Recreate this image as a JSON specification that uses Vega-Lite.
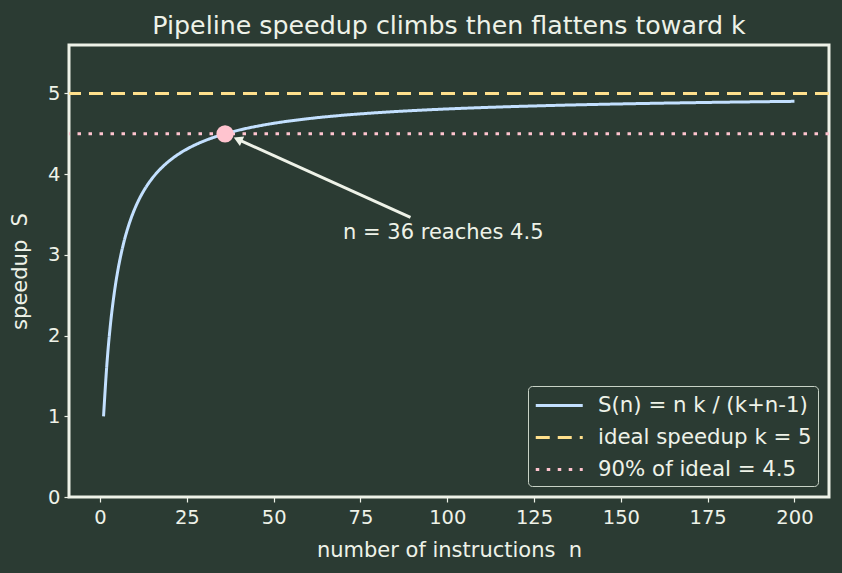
{
  "$schema": "https://vega.github.io/schema/vega-lite/v6.json",
  "autosize": "none",
  "width": 760,
  "height": 452,
  "padding": {"left": 69, "top": 45, "right": 13, "bottom": 76},
  "background": "#2b3b33",
  "config": {
    "font": "DejaVu Sans",
    "view": {"stroke": "#eef2e8", "strokeWidth": 3},
    "axis": {
      "domain": false,
      "grid": false,
      "tickColor": "#eef2e8",
      "tickSize": 5,
      "tickWidth": 1.2,
      "labelColor": "#eef2e8",
      "labelFontSize": 19.5,
      "labelPadding": 4,
      "titleColor": "#eef2e8",
      "titleFontSize": 21,
      "titleFontWeight": "normal"
    },
    "legend": {
      "labelColor": "#eef2e8",
      "labelFontSize": 21.3,
      "labelLimit": 0
    }
  },
  "title": {
    "text": "Pipeline speedup climbs then flattens toward k",
    "color": "#eef2e8",
    "fontSize": 25.3,
    "fontWeight": "normal",
    "offset": 6
  },
  "datasets": {
    "curve": [
      {"n": 1, "S": 1.0, "series": "S(n) = n k / (k+n-1)"},
      {"n": 2, "S": 1.6667, "series": "S(n) = n k / (k+n-1)"},
      {"n": 3, "S": 2.1429, "series": "S(n) = n k / (k+n-1)"},
      {"n": 4, "S": 2.5, "series": "S(n) = n k / (k+n-1)"},
      {"n": 5, "S": 2.7778, "series": "S(n) = n k / (k+n-1)"},
      {"n": 6, "S": 3.0, "series": "S(n) = n k / (k+n-1)"},
      {"n": 7, "S": 3.1818, "series": "S(n) = n k / (k+n-1)"},
      {"n": 8, "S": 3.3333, "series": "S(n) = n k / (k+n-1)"},
      {"n": 9, "S": 3.4615, "series": "S(n) = n k / (k+n-1)"},
      {"n": 10, "S": 3.5714, "series": "S(n) = n k / (k+n-1)"},
      {"n": 11, "S": 3.6667, "series": "S(n) = n k / (k+n-1)"},
      {"n": 12, "S": 3.75, "series": "S(n) = n k / (k+n-1)"},
      {"n": 13, "S": 3.8235, "series": "S(n) = n k / (k+n-1)"},
      {"n": 14, "S": 3.8889, "series": "S(n) = n k / (k+n-1)"},
      {"n": 15, "S": 3.9474, "series": "S(n) = n k / (k+n-1)"},
      {"n": 16, "S": 4.0, "series": "S(n) = n k / (k+n-1)"},
      {"n": 18, "S": 4.0909, "series": "S(n) = n k / (k+n-1)"},
      {"n": 20, "S": 4.1667, "series": "S(n) = n k / (k+n-1)"},
      {"n": 22, "S": 4.2308, "series": "S(n) = n k / (k+n-1)"},
      {"n": 25, "S": 4.3103, "series": "S(n) = n k / (k+n-1)"},
      {"n": 28, "S": 4.375, "series": "S(n) = n k / (k+n-1)"},
      {"n": 32, "S": 4.4444, "series": "S(n) = n k / (k+n-1)"},
      {"n": 36, "S": 4.5, "series": "S(n) = n k / (k+n-1)"},
      {"n": 40, "S": 4.5455, "series": "S(n) = n k / (k+n-1)"},
      {"n": 45, "S": 4.5918, "series": "S(n) = n k / (k+n-1)"},
      {"n": 50, "S": 4.6296, "series": "S(n) = n k / (k+n-1)"},
      {"n": 60, "S": 4.6875, "series": "S(n) = n k / (k+n-1)"},
      {"n": 70, "S": 4.7297, "series": "S(n) = n k / (k+n-1)"},
      {"n": 80, "S": 4.7619, "series": "S(n) = n k / (k+n-1)"},
      {"n": 90, "S": 4.7872, "series": "S(n) = n k / (k+n-1)"},
      {"n": 100, "S": 4.8077, "series": "S(n) = n k / (k+n-1)"},
      {"n": 115, "S": 4.8319, "series": "S(n) = n k / (k+n-1)"},
      {"n": 130, "S": 4.8507, "series": "S(n) = n k / (k+n-1)"},
      {"n": 150, "S": 4.8701, "series": "S(n) = n k / (k+n-1)"},
      {"n": 175, "S": 4.8883, "series": "S(n) = n k / (k+n-1)"},
      {"n": 200, "S": 4.902, "series": "S(n) = n k / (k+n-1)"}
    ],
    "refs": [
      {"S": 5, "series": "ideal speedup k = 5"},
      {"S": 4.5, "series": "90% of ideal = 4.5"}
    ],
    "marker": [
      {"n": 36, "S": 4.5, "label": "n = 36 reaches 4.5", "tx": 70, "ty": 3.2, "ax": 89.4, "ay": 3.465, "hx": 39.7, "hy": 4.43}
    ]
  },
  "layer": [
    {
      "data": {"name": "refs"},
      "mark": {"type": "rule", "strokeWidth": 3},
      "encoding": {
        "y": {"field": "S", "type": "quantitative", "scale": {"domain": [0, 5.6], "nice": false, "zero": false}, "axis": {"values": [0, 1, 2, 3, 4, 5], "format": "d", "title": "speedup\u00a0 S", "titlePadding": 17}},
        "color": {"field": "series", "type": "nominal"},
        "strokeDash": {"field": "series", "type": "nominal"}
      }
    },
    {
      "data": {"name": "curve"},
      "mark": {"type": "line", "strokeWidth": 3, "interpolate": "monotone"},
      "encoding": {
        "x": {"field": "n", "type": "quantitative", "scale": {"domain": [-8.95, 209.95], "nice": false, "zero": false}, "axis": {"values": [0, 25, 50, 75, 100, 125, 150, 175, 200], "title": "number of instructions\u00a0 n", "titlePadding": 13, "labelPadding": 6}},
        "y": {"field": "S", "type": "quantitative"},
        "color": {
          "field": "series", "type": "nominal",
          "scale": {
            "domain": ["S(n) = n k / (k+n-1)", "ideal speedup k = 5", "90% of ideal = 4.5"],
            "range": ["#c3e0ff", "#ffe08c", "#ffc4cf"]
          },
          "legend": {
            "title": null,
            "orient": "bottom-right",
            "offset": 11,
            "symbolType": "M-1,0H3",
            "symbolSize": 552,
            "symbolStrokeWidth": 3,
            "padding": 6,
            "rowPadding": 8,
            "labelOffset": 37,
            "fillColor": "#2b3b33",
            "strokeColor": "#c8d2c6",
            "cornerRadius": 4
          }
        },
        "strokeDash": {
          "field": "series", "type": "nominal",
          "scale": {
            "domain": ["S(n) = n k / (k+n-1)", "ideal speedup k = 5", "90% of ideal = 4.5"],
            "range": [[1, 0], [14, 8], [3.5, 7.5]]
          }
        }
      }
    },
    {
      "data": {"name": "marker"},
      "mark": {"type": "rule", "color": "#eef2e8", "strokeWidth": 3},
      "encoding": {
        "x": {"field": "ax", "type": "quantitative"},
        "y": {"field": "ay", "type": "quantitative"},
        "x2": {"field": "hx"},
        "y2": {"field": "hy"}
      }
    },
    {
      "data": {"name": "marker"},
      "mark": {"type": "point", "shape": "triangle-up", "filled": true, "color": "#eef2e8", "size": 110, "angle": 294, "opacity": 1},
      "encoding": {
        "x": {"field": "hx", "type": "quantitative"},
        "y": {"field": "hy", "type": "quantitative"}
      }
    },
    {
      "data": {"name": "marker"},
      "mark": {"type": "point", "filled": true, "color": "#ffc4cf", "size": 300, "opacity": 1},
      "encoding": {
        "x": {"field": "n", "type": "quantitative"},
        "y": {"field": "S", "type": "quantitative"}
      }
    },
    {
      "data": {"name": "marker"},
      "mark": {"type": "text", "color": "#eef2e8", "fontSize": 21, "align": "left", "baseline": "alphabetic"},
      "encoding": {
        "x": {"field": "tx", "type": "quantitative"},
        "y": {"field": "ty", "type": "quantitative"},
        "text": {"field": "label"}
      }
    }
  ]
}
